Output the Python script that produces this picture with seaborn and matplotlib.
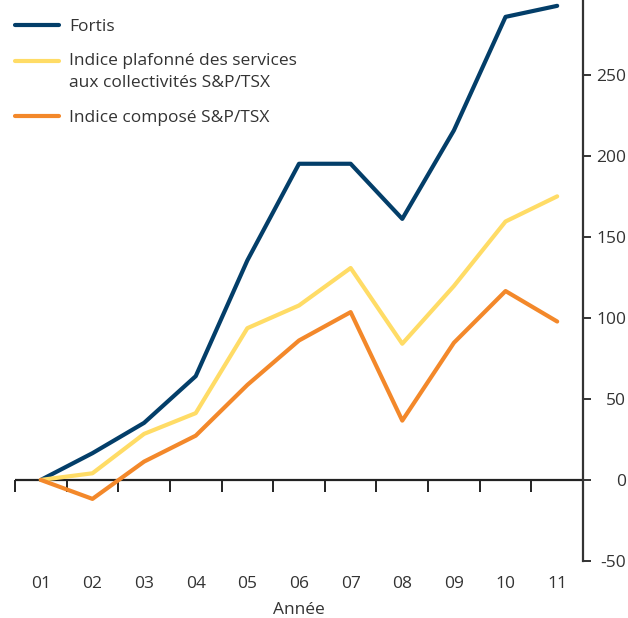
import numpy as np
import pandas as pd
import matplotlib
matplotlib.use('Agg')
import matplotlib.pyplot as plt
import seaborn as sns
from matplotlib.legend_handler import HandlerLine2D

# Data
years = ['01', '02', '03', '04', '05', '06', '07', '08', '09', '10', '11']
fortis = [0, 16.5, 35.2, 64, 135.4, 195, 195, 161, 215.6, 285.6, 292.4]
plafonne = [0, 4.1, 28.4, 41.2, 93.6, 107.6, 130.7, 84, 119.6, 159.4, 174.9]
compose = [0, -11.7, 11.3, 27.3, 58.6, 86, 103.5, 36.6, 84.6, 116.5, 97.7]

series_names = ['Fortis',
                'Indice plafonné des services\naux collectivités S&P/TSX',
                'Indice composé S&P/TSX']
colors = ['#033e69', '#ffdc66', '#f3882a']
y_ticks = [-50, 0, 50, 100, 150, 200, 250]

sns.set_style('white')
plt.rcParams['font.family'] = ['Open Sans', 'DejaVu Sans']
plt.rcParams['axes.unicode_minus'] = False
text_color = '#333333'
fs = 12.5


class FirstLineHandler(HandlerLine2D):
    """Align the legend line with the first line of a two-line label"""
    def create_artists(self, legend, orig_handle, xdescent, ydescent,
                       width, height, fontsize, trans):
        artists = super().create_artists(legend, orig_handle, xdescent, ydescent,
                                         width, height, fontsize, trans)
        for a in artists:
            a.set_ydata(np.asarray(a.get_ydata()) + 8.0)
        return artists


df = pd.DataFrame({
    'Année': years * 3,
    'valeur': fortis + plafonne + compose,
    'serie': [series_names[0]] * 11 + [series_names[1]] * 11 + [series_names[2]] * 11,
})

fig = plt.figure(figsize=(6.28, 6.18), dpi=100)
ax = fig.add_axes([15 / 628, 57 / 618, 568 / 628, 561 / 618])

sns.lineplot(data=df, x='Année', y='valeur', hue='serie', palette=colors,
             sort=False, linewidth=3.0, ax=ax)

ymin, ymax = -50, 296
ax.set_xlim(-0.5, len(years) - 0.5)
ax.set_ylim(ymin, ymax)

# zero line
ax.axhline(0, color='#222222', linewidth=1.6, zorder=1)

# spines
for s in ['left', 'top', 'bottom']:
    ax.spines[s].set_visible(False)
ax.spines['right'].set_color('#333333')
ax.spines['right'].set_linewidth(1.6)

# y axis on right
ax.yaxis.tick_right()
ax.set_yticks(y_ticks)
ax.tick_params(axis='y', which='major', direction='out', length=6, width=1.4,
               color='#333333', labelcolor=text_color, labelsize=fs, pad=25)
for lab in ax.get_yticklabels():
    lab.set_horizontalalignment('right')
ax.set_ylabel('')

# x tick labels at the bottom
ax.set_xticks(range(len(years)))
ax.set_xticklabels(years)
ax.tick_params(axis='x', which='major', length=0, labelsize=fs,
               labelcolor=text_color, pad=11)
ax.set_xlabel('Année', fontsize=fs, color=text_color, labelpad=7)

# boundary ticks hanging from the zero line
zero_frac = (0 - ymin) / (ymax - ymin)
sec = ax.secondary_xaxis(zero_frac)
sec.set_xticks(np.arange(-0.5, len(years)), labels=[])
sec.tick_params(direction='out', length=8.5, width=1.4, color='#222222')
sec.spines['bottom'].set_visible(False)
sec.spines['top'].set_visible(False)

# legend
handles, labels = ax.get_legend_handles_labels()
leg = ax.legend(handles, labels, loc='upper left',
                bbox_to_anchor=(0, 1 - 19 / 561), frameon=False,
                fontsize=fs, handlelength=2.55, handletextpad=0.58,
                labelspacing=1.05, borderaxespad=0, borderpad=0,
                handler_map={handles[1]: FirstLineHandler()})
for t in leg.get_texts():
    t.set_color(text_color)
    t.set_linespacing(1.5)

ax.grid(False)
fig.savefig('out.png', dpi=100)
